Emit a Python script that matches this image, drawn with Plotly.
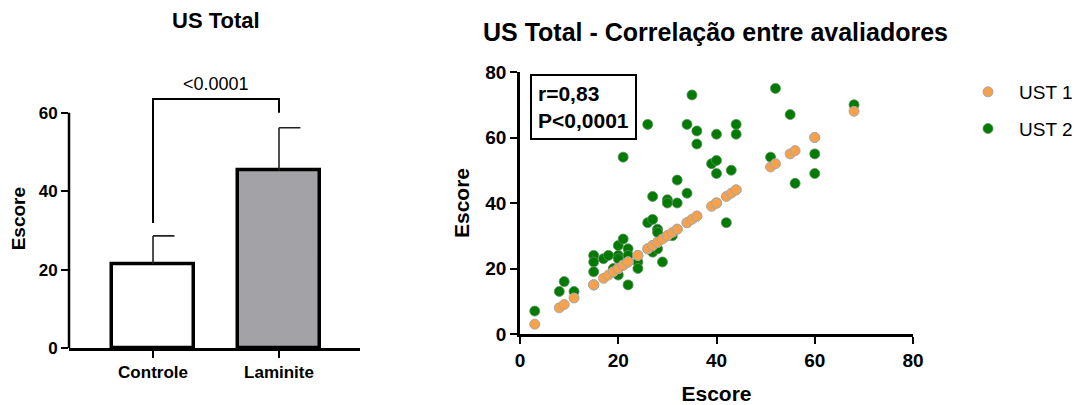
import plotly.graph_objects as go

# Bar panel: group means and upper SD
groups = ["Controle", "Laminite"]
group_means = [21.4, 45.3]
group_sd = [7.2, 10.9]
bar_fills = ["#FFFFFF", "#A3A2A7"]
p_label = "<0.0001"

# Scatter panel: score from rater 1 (x) vs. rater 1 / rater 2 (y)
ust1 = [3, 8, 9, 11, 15, 15, 15, 17, 18, 19, 20, 20, 20, 20, 21, 21, 22, 22, 22,
        24, 24, 26, 26, 27, 27, 27, 28, 28, 28, 29, 30, 30, 31, 32, 32, 34, 34,
        35, 36, 36, 39, 40, 40, 40, 42, 43, 44, 44, 51, 52, 55, 56, 60, 60, 68]
ust2 = [7, 13, 16, 13, 24, 22, 19, 23, 24, 20, 27, 24, 23, 18, 29, 54, 26, 15, 24,
        22, 20, 34, 64, 35, 42, 25, 32, 31, 26, 22, 41, 40, 30, 40, 47, 43, 64,
        73, 62, 58, 52, 61, 53, 49, 34, 50, 64, 61, 54, 75, 67, 46, 55, 49, 70]
stats_text = "r=0,83<br>P<0,0001"

W, H = 1084, 405
FONT = "Arial, Liberation Sans, sans-serif"


def px(x):
    return x / W


def py(y):
    return 1 - y / H


fig = go.Figure()

# --- bars ---
fig.add_trace(go.Bar(
    x=[0, 1], y=group_means, width=0.65,
    marker=dict(color=bar_fills, line=dict(color="black", width=3.5)),
    xaxis="x", yaxis="y", showlegend=False,
))

# one-sided error bars (vertical stem + cap to the right)
for i, (m, s) in enumerate(zip(group_means, group_sd)):
    fig.add_trace(go.Scatter(
        x=[i, i, None, i, i + 0.17], y=[m, m + s, None, m + s, m + s],
        mode="lines", line=dict(color="#222222", width=1.6),
        xaxis="x", yaxis="y", showlegend=False, hoverinfo="skip",
    ))

# significance bracket
fig.add_trace(go.Scatter(
    x=[0, 0, 1, 1], y=[31.9, 63.5, 63.5, 60.0],
    mode="lines", line=dict(color="black", width=2),
    xaxis="x", yaxis="y", showlegend=False, hoverinfo="skip",
))

# --- scatter ---
fig.add_trace(go.Scatter(
    x=ust1, y=ust2, mode="markers", name="UST 2",
    marker=dict(color="#037A03", size=10, line=dict(color="#5A8F5A", width=0.8)),
    xaxis="x2", yaxis="y2", cliponaxis=False, legendrank=2, legendgroup="b",
))
fig.add_trace(go.Scatter(
    x=ust1, y=ust1, mode="markers", name="UST 1",
    marker=dict(color="#F7A14A", size=10, line=dict(color="#A8A8A8", width=1)),
    xaxis="x2", yaxis="y2", cliponaxis=False, legendrank=1, legendgroup="a",
))

bold = dict(family=FONT, color="black", weight="bold")

fig.update_layout(
    width=W, height=H,
    margin=dict(l=0, r=0, t=0, b=0, pad=0, autoexpand=False),
    paper_bgcolor="white", plot_bgcolor="white",
    font=dict(family=FONT, color="black"),
    xaxis=dict(
        domain=[px(69), px(360)], range=[-0.667, 1.643],
        tickvals=[0, 1], ticktext=groups,
        showline=True, linecolor="black", linewidth=2.5,
        ticks="outside", ticklen=7, tickwidth=2, tickcolor="black",
        showgrid=False, zeroline=False, automargin=False,
        tickfont=dict(size=17, **bold),
        anchor="y",
    ),
    yaxis=dict(
        domain=[py(348), py(89.3)], range=[0, 66],
        tickvals=[0, 20, 40, 60],
        showline=False, ticks="outside", ticklen=7, tickwidth=2, tickcolor="black",
        showgrid=False, zeroline=False, automargin=False,
        tickfont=dict(size=17, **bold),
        title=dict(text="Escore", font=dict(size=19, **bold), standoff=8),
        anchor="x",
    ),
    xaxis2=dict(
        domain=[px(520), px(913)], range=[0, 80], dtick=20,
        showline=True, linecolor="black", linewidth=2.5,
        ticks="outside", ticklen=7, tickwidth=2, tickcolor="black",
        showgrid=False, zeroline=False, automargin=False,
        tickfont=dict(size=19, **bold),
        title=dict(text="Escore", font=dict(size=21, **bold), standoff=18),
        anchor="y2",
    ),
    yaxis2=dict(
        domain=[py(334), py(72)], range=[0, 80], dtick=20,
        showline=True, linecolor="black", linewidth=2.5,
        ticks="outside", ticklen=7, tickwidth=2, tickcolor="black",
        showgrid=False, zeroline=False, automargin=False,
        tickfont=dict(size=19, **bold),
        title=dict(text="Escore", font=dict(size=21, **bold), standoff=10),
        anchor="x2",
    ),
    legend=dict(
        x=px(957), y=py(73), xanchor="left", yanchor="top",
        font=dict(family=FONT, size=19, color="black"),
        traceorder="grouped", tracegroupgap=9, itemsizing="trace",
        itemwidth=52, bgcolor="rgba(0,0,0,0)",
    ),
    bargap=0,
)

# bar panel y-axis line stops at the last tick
fig.add_shape(type="line", xref="x domain", yref="y", x0=0, x1=0, y0=0, y1=60,
              line=dict(color="black", width=2.5))

fig.add_annotation(text="US Total", x=px(216), y=py(20), xref="paper", yref="paper",
                   xanchor="center", yanchor="middle", showarrow=False,
                   font=dict(size=22, **bold))
fig.add_annotation(text="US Total - Correlação entre avaliadores", x=px(481), y=py(32),
                   xref="paper", yref="paper", xanchor="left", yanchor="middle",
                   showarrow=False, font=dict(size=25, **bold))
fig.add_annotation(text=p_label, x=0.5, y=py(84), xref="x", yref="paper",
                   xanchor="center", yanchor="middle",
                   showarrow=False, font=dict(family=FONT, size=18, color="black"))
fig.add_annotation(text=stats_text, x=px(530), y=py(74), xref="paper", yref="paper",
                   xanchor="left", yanchor="top", align="left", showarrow=False,
                   bordercolor="black", borderwidth=2, borderpad=6, bgcolor="white",
                   font=dict(size=21, **bold))

fig.write_html("out.html")
